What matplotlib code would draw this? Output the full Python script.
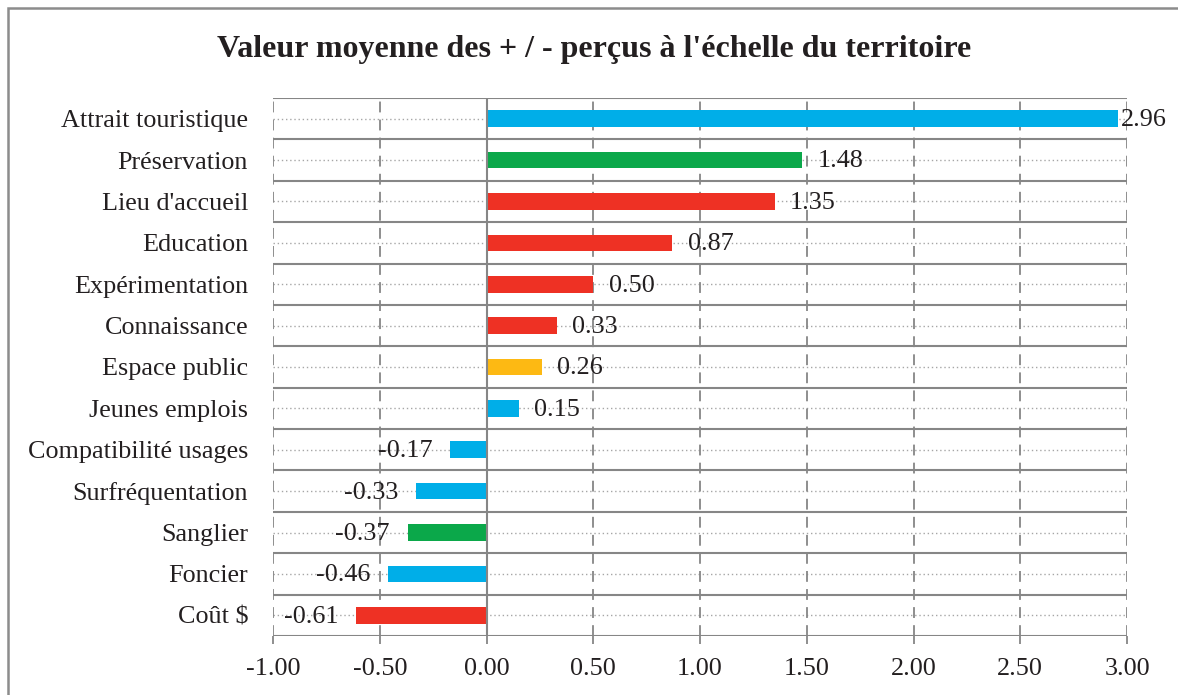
import numpy as np
import matplotlib.pyplot as plt
from matplotlib.patches import Rectangle

categories = ["Attrait touristique", "Préservation", "Lieu d'accueil", "Education",
              "Expérimentation", "Connaissance", "Espace public", "Jeunes emplois",
              "Compatibilité usages", "Surfréquentation", "Sanglier", "Foncier", "Coût $"]
values = [2.96, 1.48, 1.35, 0.87, 0.50, 0.33, 0.26, 0.15, -0.17, -0.33, -0.37, -0.46, -0.61]
bar_colors = ["#00aee8", "#0ba84a", "#ee3124", "#ee3124", "#ee3124", "#ee3124", "#fdb913",
              "#00aee8", "#00aee8", "#00aee8", "#0ba84a", "#00aee8", "#ee3124"]
xticks = [-1.0, -0.5, 0.0, 0.5, 1.0, 1.5, 2.0, 2.5, 3.0]

plt.rcParams['font.family'] = ['Liberation Serif', 'DejaVu Serif']
text_color = "#231f20"
grid_color = "#868686"
fs = 18.8

fig = plt.figure(figsize=(11.78, 6.95), dpi=100)
ax = fig.add_axes([273 / 1178, 1 - 636 / 695, (1127 - 273) / 1178, (636 - 98) / 695])

# outer frame of the chart area
fig.patches.append(Rectangle((8 / 1178, -0.05), 1.1, 1 - 8 / 695 + 0.05, transform=fig.transFigure,
                             fill=False, edgecolor="#8c8c8c", linewidth=1.8))

n = len(categories)
y = np.arange(n)

# horizontal lines: solid between rows, dotted through row centres
for b in np.arange(-0.5, n, 1.0):
    ax.axhline(b, color=grid_color, linewidth=1.5, zorder=1)
for c in y:
    ax.axhline(c, color="#a6a6a6", linewidth=1.0, linestyle=(0, (1, 2)), zorder=1)

# vertical lines at each major tick
for t in xticks:
    if t == 0:
        ax.axvline(t, color=grid_color, linewidth=1.5, zorder=4)
    else:
        ax.axvline(t, color=grid_color, linewidth=1.3, linestyle=(0, (6, 4)), zorder=1)

ax.barh(y, values, height=0.4, color=bar_colors, zorder=3)

for yi, v in zip(y, values):
    if v >= 0:
        off = 2 if v > 2.9 else 11
        ax.annotate(f"{v:.2f}", (v, yi), xytext=(off, -1), textcoords="offset points",
                    ha="left", va="center", fontsize=fs, color=text_color)
    else:
        ax.annotate(f"{v:.2f}", (v, yi), xytext=(-13, -1), textcoords="offset points",
                    ha="right", va="center", fontsize=fs, color=text_color)

ax.set_xlim(-1, 3)
ax.set_ylim(n - 0.5, -0.5)
ax.set_xticks(xticks)
ax.set_xticklabels([f"{t:.2f}" for t in xticks])
ax.set_yticks(y)
ax.set_yticklabels(categories)
ax.tick_params(axis='x', length=6, width=1.3, color=grid_color, labelsize=fs,
               labelcolor=text_color, pad=10)
ax.tick_params(axis='y', length=0, labelsize=fs, labelcolor=text_color, pad=18)
for s in ax.spines.values():
    s.set_visible(False)

fig.text(594 / 1178, 1 - 50 / 695, "Valeur moyenne des + / - perçus à l'échelle du territoire",
         ha="center", va="center", fontsize=23, fontweight="bold", color=text_color)

fig.savefig("out.png", dpi=100)
